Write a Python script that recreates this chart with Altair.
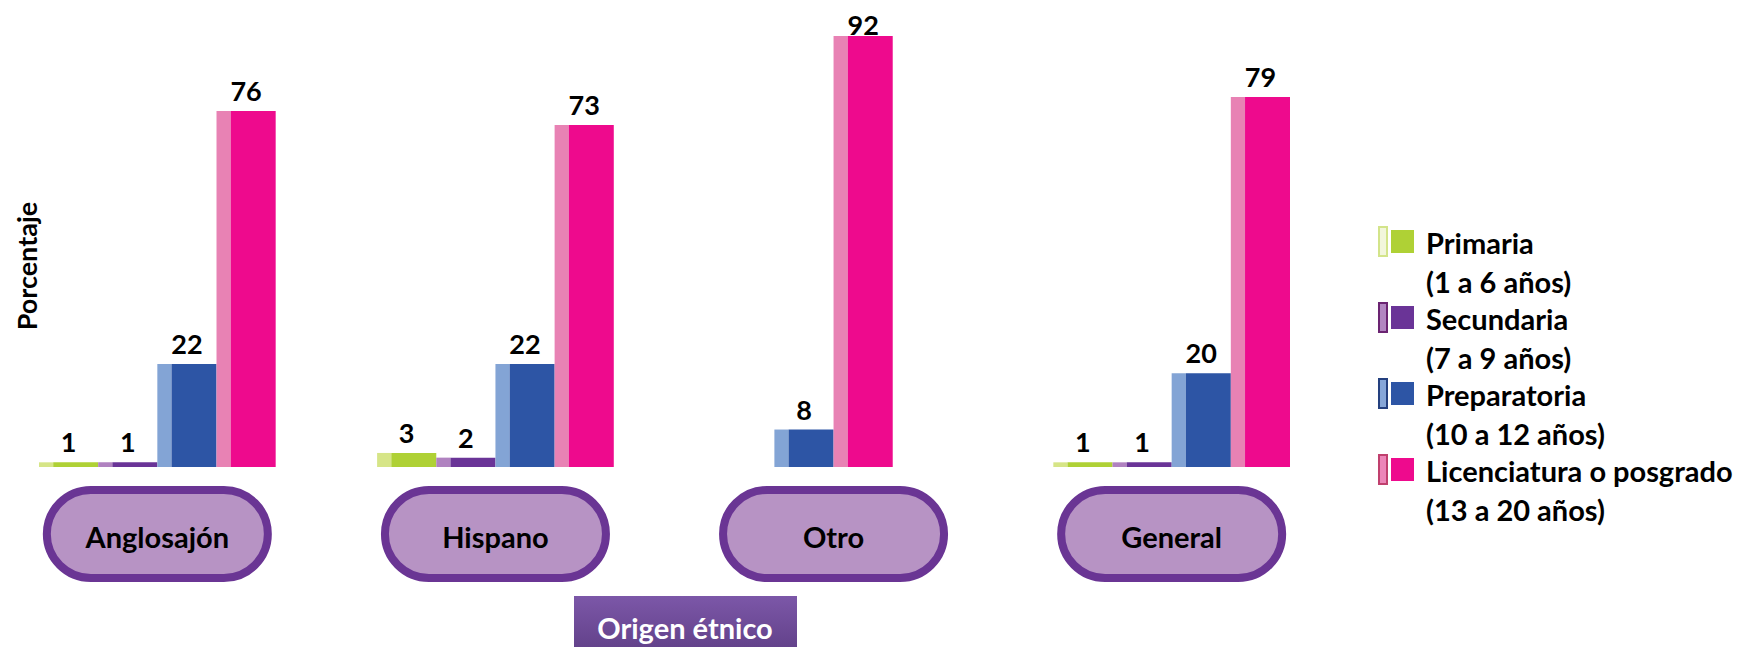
import altair as alt
import pandas as pd

# ---------------- data ----------------
grupos = ["Anglosajón", "Hispano", "Otro", "General"]
niveles = ["Primaria", "Secundaria", "Preparatoria", "Licenciatura o posgrado"]
rangos_edad = ["(1 a 6 años)", "(7 a 9 años)", "(10 a 12 años)", "(13 a 20 años)"]
primaria = [1, 3, 0, 1]
secundaria = [1, 2, 0, 1]
preparatoria = [22, 22, 8, 20]
licenciatura = [76, 73, 92, 79]

# ---------------- styles ----------------
FONT = "Lato"
oscuros = ["#AFD135", "#6A3497", "#2D55A5", "#EE0A8D"]
claros = ["#D6E587", "#B082C0", "#83A4D5", "#E882B4"]
claros_ley = ["#F2F6DC", "#B286C1", "#86A6D8", "#EC86B8"]
bordes_ley = ["#D3E48A", "#6B2472", "#24407F", "#C0406E"]

series = [primaria, secundaria, preparatoria, licenciatura]
rows = []
for gi, g in enumerate(grupos):
    vals = [(niveles[li], series[li][gi]) for li in range(len(niveles)) if series[li][gi] > 0]
    shift = (len(niveles) - len(vals)) / 2
    for k, (nv, v) in enumerate(vals):
        rows.append({"grupo": g, "nivel": nv, "valor": v, "slot": k + shift})
df = pd.DataFrame(rows)

x_scale = alt.Scale(domain=grupos, paddingInner=0.3, paddingOuter=0)
y_scale = alt.Scale(domain=[0, 98], nice=False, zero=True)
STRIP = 0.24
N = len(niveles)

x_axis = alt.Axis(orient="bottom", title="Origen étnico", domain=False, ticks=False, tickSize=0,
                  grid=False, labelAngle=0, labelFont=FONT, labelFontSize=29,
                  labelFontWeight="bold", labelColor="black", labelPadding=80,
                  labelBaseline="alphabetic", titleFont=FONT, titleFontSize=29,
                  titleFontWeight="bold", titleColor="white", titleX=645.5,
                  titleY=171, titleAlign="center", titleBaseline="alphabetic",
                  zindex=1)
y_axis = alt.Axis(orient="left", title="Porcentaje", labels=False, ticks=False, domain=False,
                  grid=False, titleFont=FONT, titleFontSize=27, titleFontWeight="bold",
                  titleColor="black", titleAngle=270, titleX=-11, titleY=257.6,
                  titleAlign="center", titleBaseline="middle")

# axis-title box
caja = alt.Chart(pd.DataFrame({"grupo": ["Origen étnico"]})).mark_rect(
    color=alt.LinearGradient(
        gradient="linear",
        stops=[alt.GradientStop(offset=0, color="#7C57A8"),
               alt.GradientStop(offset=1, color="#5E3E85")],
        x1=0, x2=0, y1=0, y2=1)
).encode(x=alt.value(535), x2=alt.value(758), y=alt.value(588), y2=alt.value(650))

# ovals behind the group names
ovalos = alt.Chart(pd.DataFrame({"grupo": grupos})).mark_bar(
    width=221, cornerRadius=44, fill="#B793C4", stroke="#6A3594", strokeWidth=8
).encode(
    x=alt.X("grupo:N", scale=x_scale, axis=x_axis),
    y=alt.value(482),
    y2=alt.value(570),
)

capas = [caja, ovalos]
for k in range(N):
    base = alt.Chart(df).transform_filter(f"datum.slot == {k}")
    claro = base.mark_rect().encode(
        x=alt.X("grupo:N", scale=x_scale, bandPosition=k / N, axis=x_axis),
        x2=alt.X2("grupo", bandPosition=(k + STRIP) / N),
        y=alt.Y("valor:Q", scale=y_scale, axis=y_axis),
        fill=alt.Fill("nivel:N", scale=alt.Scale(domain=niveles, range=claros), legend=None),
    )
    oscuro = base.mark_rect().encode(
        x=alt.X("grupo:N", scale=x_scale, bandPosition=(k + STRIP) / N, axis=x_axis),
        x2=alt.X2("grupo", bandPosition=(k + 1) / N),
        y=alt.Y("valor:Q", scale=y_scale, axis=y_axis),
        color=alt.Color("nivel:N", scale=alt.Scale(domain=niveles, range=oscuros), legend=None),
    )
    etiqueta = base.transform_calculate(
        pos="min(datum.valor, 90)"
    ).mark_text(font=FONT, fontSize=27, fontWeight="bold", color="black",
                baseline="alphabetic", dy=-10).encode(
        x=alt.X("grupo:N", scale=x_scale, bandPosition=(k + 0.5) / N, axis=x_axis),
        y=alt.Y("pos:Q", scale=y_scale, axis=y_axis),
        text=alt.Text("valor:Q"),
    )
    capas += [claro, oscuro, etiqueta]

principal = alt.layer(*capas)

# ---------------- legend ----------------
df_ley = pd.DataFrame({"nivel": niveles,
                       "texto": [f"{n}\n{r}" for n, r in zip(niveles, rangos_edad)]})
y_ley = alt.Y("nivel:N", scale=alt.Scale(type="point", domain=niveles, range=[233.5, 461.5],
                                         padding=0), axis=None)
tira = alt.Chart(df_ley).mark_point(
    shape="M -0.276 -1 L 0.276 -1 L 0.276 1 L -0.276 1 Z", size=841, filled=True,
    strokeWidth=2, opacity=1
).encode(
    x=alt.value(1344), y=y_ley,
    fill=alt.Fill("nivel:N", scale=alt.Scale(domain=niveles, range=claros_ley), legend=None),
    stroke=alt.Stroke("nivel:N", scale=alt.Scale(domain=niveles, range=bordes_ley), legend=None),
)
cuadro = alt.Chart(df_ley).mark_square(size=529, opacity=1, filled=True).encode(
    x=alt.value(1363.5), y=y_ley,
    color=alt.Color("nivel:N", scale=alt.Scale(domain=niveles, range=oscuros), legend=None),
)
texto = alt.Chart(df_ley).mark_text(
    font=FONT, fontSize=29, fontWeight="bold", color="black", align="left",
    baseline="alphabetic", dy=12.5, lineBreak="\n", lineHeight=39
).encode(x=alt.value(1387), y=y_ley, text="texto:N")

leyenda = alt.layer(tira, cuadro, texto)

chart = alt.layer(principal, leyenda).resolve_scale(
    y="independent", fill="independent", stroke="independent", color="independent"
).properties(
    width=1251, height=459,
    autosize=alt.AutoSizeParams(type="none"),
    padding={"left": 31, "top": 0, "right": 458, "bottom": 180},
    background="white",
).configure_view(stroke=None)

chart.save("out.html", embed_options={"renderer": "svg", "actions": False})
